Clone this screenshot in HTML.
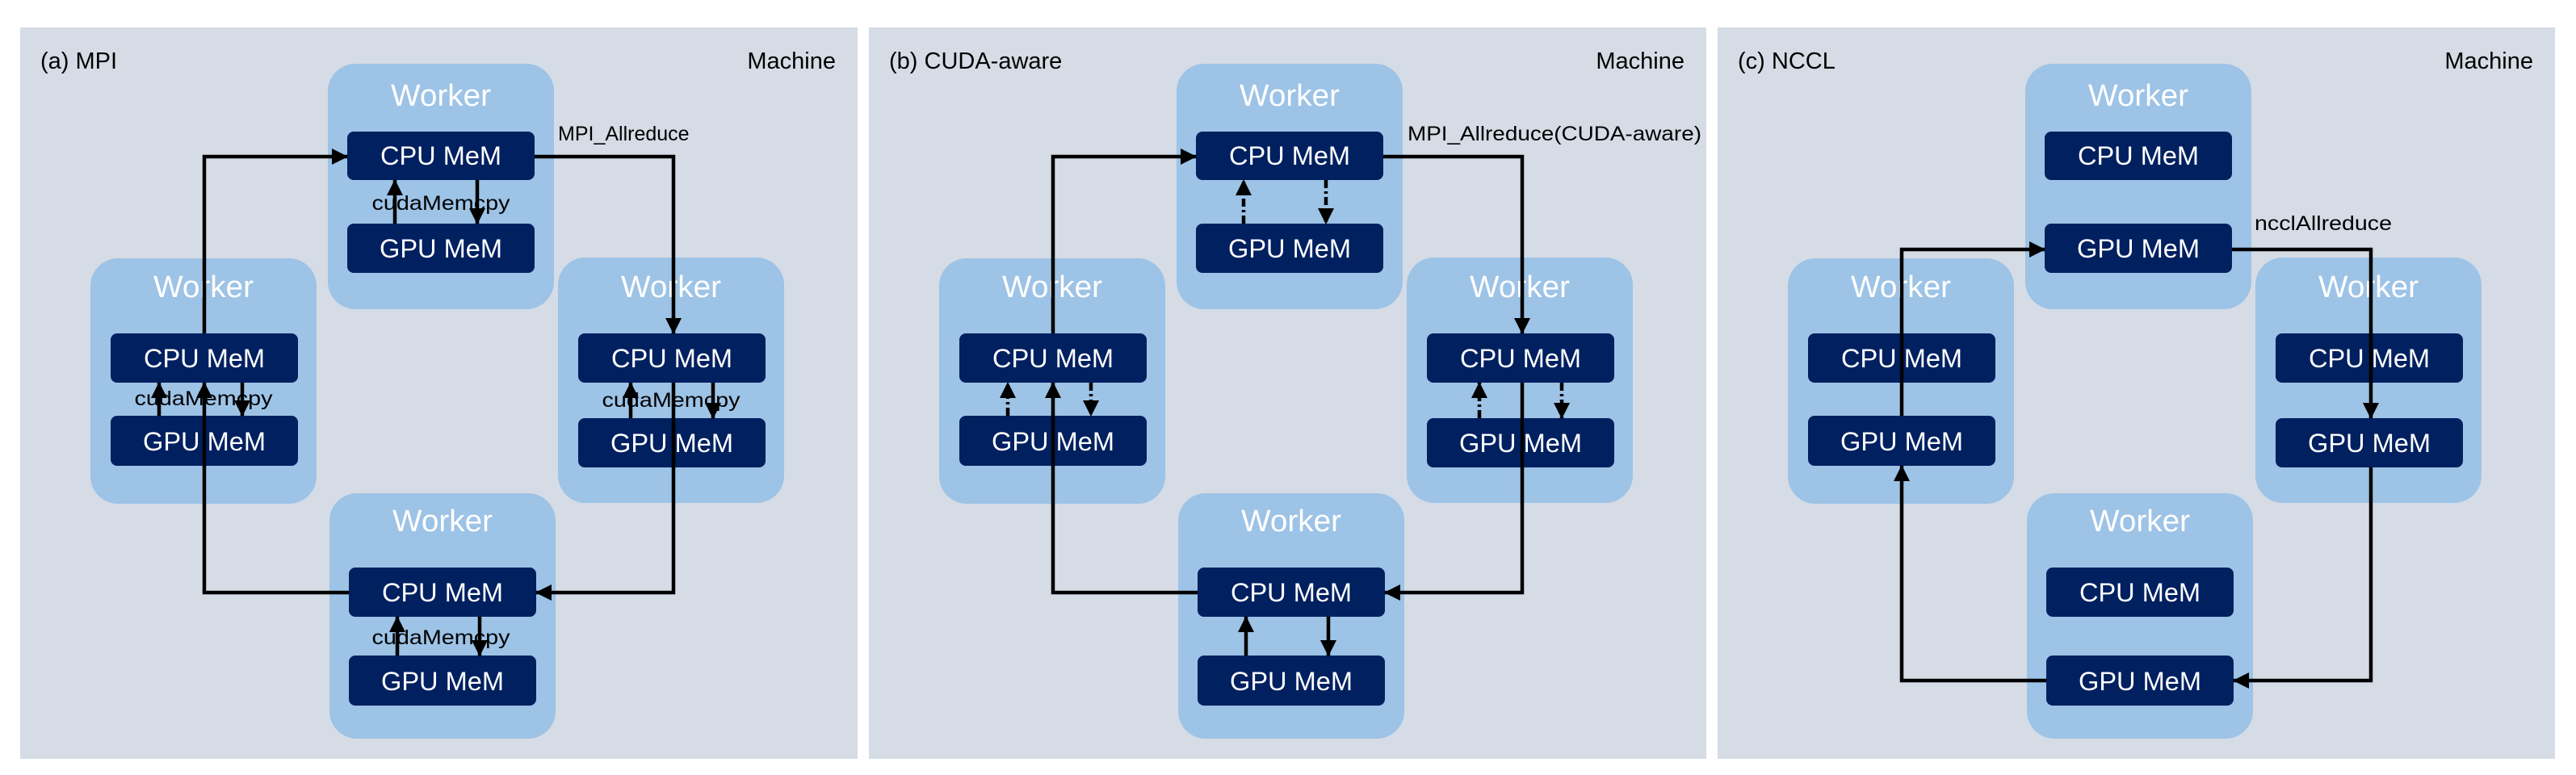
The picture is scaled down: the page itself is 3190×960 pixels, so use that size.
<!DOCTYPE html>
<html><head><meta charset="utf-8"><style>
html,body{margin:0;padding:0;background:#fff;width:3190px;height:960px;overflow:hidden}
svg{display:block}
text{font-family:"Liberation Sans",sans-serif}
.wl{fill:#fff;font-size:38px;text-anchor:middle}
.bt{fill:#fff;font-size:32px;text-anchor:middle}
.lb{fill:#000;font-size:25px}
.pl{fill:#000;font-size:29px}
.w{fill:#9dc3e6}
.b{fill:#002060}
.ln{fill:none;stroke:#000;stroke-width:4.5;marker-end:url(#ah)}
.dl{fill:none;stroke:#000;stroke-width:4.5;stroke-dasharray:10,4,3,4;marker-end:url(#ah)}
</style></head><body>
<svg width="3190" height="960" viewBox="0 0 3190 960" xmlns="http://www.w3.org/2000/svg">
<defs>
<marker id="ah" markerUnits="userSpaceOnUse" markerWidth="22" markerHeight="22" refX="19" refY="10" orient="auto">
<path d="M0,0 L20,10 L0,20 z" fill="#000"/>
</marker>
</defs>

<!-- ============ Panel A ============ -->
<g transform="translate(25,0)">
<rect x="0" y="34" width="1037" height="906" fill="#d5dce6"/>
<text class="pl" x="25" y="85">(a) MPI</text>
<text class="pl" x="1010" y="85" text-anchor="end">Machine</text>
<!-- top -->
<rect class="w" x="381" y="79" width="280" height="304" rx="34"/>
<text class="wl" x="521" y="131" textLength="124" lengthAdjust="spacingAndGlyphs">Worker</text>
<rect class="b" x="405" y="163" width="232" height="60" rx="8"/>
<text class="bt" x="521" y="204" textLength="150" lengthAdjust="spacingAndGlyphs">CPU MeM</text>
<rect class="b" x="405" y="277" width="232" height="61" rx="8"/>
<text class="bt" x="521" y="319" textLength="152" lengthAdjust="spacingAndGlyphs">GPU MeM</text>
<text class="lb" x="521" y="260" text-anchor="middle" textLength="171" lengthAdjust="spacingAndGlyphs">cudaMemcpy</text>
<path class="ln" d="M464,277 L464,223"/>
<path class="ln" d="M566,223 L566,277"/>
<!-- left -->
<rect class="w" x="87" y="320" width="280" height="304" rx="34"/>
<text class="wl" x="227" y="368" textLength="124" lengthAdjust="spacingAndGlyphs">Worker</text>
<rect class="b" x="112" y="413" width="232" height="61" rx="8"/>
<text class="bt" x="228" y="455" textLength="150" lengthAdjust="spacingAndGlyphs">CPU MeM</text>
<rect class="b" x="112" y="515" width="232" height="62" rx="8"/>
<text class="bt" x="228" y="558" textLength="152" lengthAdjust="spacingAndGlyphs">GPU MeM</text>
<text class="lb" x="227" y="502" text-anchor="middle" textLength="171" lengthAdjust="spacingAndGlyphs">cudaMemcpy</text>
<path class="ln" d="M172,515 L172,474"/>
<path class="ln" d="M275,474 L275,515"/>
<!-- right -->
<rect class="w" x="666" y="319" width="280" height="304" rx="34"/>
<text class="wl" x="806" y="368" textLength="124" lengthAdjust="spacingAndGlyphs">Worker</text>
<rect class="b" x="691" y="413" width="232" height="61" rx="8"/>
<text class="bt" x="807" y="455" textLength="150" lengthAdjust="spacingAndGlyphs">CPU MeM</text>
<rect class="b" x="691" y="518" width="232" height="61" rx="8"/>
<text class="bt" x="807" y="560" textLength="152" lengthAdjust="spacingAndGlyphs">GPU MeM</text>
<text class="lb" x="806" y="504" text-anchor="middle" textLength="171" lengthAdjust="spacingAndGlyphs">cudaMemcpy</text>
<path class="ln" d="M756,518 L756,474"/>
<path class="ln" d="M858,474 L858,518"/>
<!-- bottom -->
<rect class="w" x="383" y="611" width="280" height="304" rx="34"/>
<text class="wl" x="523" y="658" textLength="124" lengthAdjust="spacingAndGlyphs">Worker</text>
<rect class="b" x="407" y="703" width="232" height="61" rx="8"/>
<text class="bt" x="523" y="745" textLength="150" lengthAdjust="spacingAndGlyphs">CPU MeM</text>
<rect class="b" x="407" y="812" width="232" height="62" rx="8"/>
<text class="bt" x="523" y="855" textLength="152" lengthAdjust="spacingAndGlyphs">GPU MeM</text>
<text class="lb" x="521" y="798" text-anchor="middle" textLength="171" lengthAdjust="spacingAndGlyphs">cudaMemcpy</text>
<path class="ln" d="M467,812 L467,764"/>
<path class="ln" d="M569,764 L569,812"/>
<!-- ring -->
<text class="lb" x="666" y="174">MPI_Allreduce</text>
<path class="ln" d="M637,194 L809,194 L809,413"/>
<path class="ln" d="M809,474 L809,734 L639,734"/>
<path class="ln" d="M407,734 L228,734 L228,474"/>
<path class="ln" d="M228,413 L228,194 L405,194"/>
</g>

<!-- ============ Panel B ============ -->
<g transform="translate(1076,0)">
<rect x="0" y="34" width="1037" height="906" fill="#d5dce6"/>
<text class="pl" x="25" y="85">(b) CUDA-aware</text>
<text class="pl" x="1010" y="85" text-anchor="end">Machine</text>
<!-- top -->
<rect class="w" x="381" y="79" width="280" height="304" rx="34"/>
<text class="wl" x="521" y="131" textLength="124" lengthAdjust="spacingAndGlyphs">Worker</text>
<rect class="b" x="405" y="163" width="232" height="60" rx="8"/>
<text class="bt" x="521" y="204" textLength="150" lengthAdjust="spacingAndGlyphs">CPU MeM</text>
<rect class="b" x="405" y="277" width="232" height="61" rx="8"/>
<text class="bt" x="521" y="319" textLength="152" lengthAdjust="spacingAndGlyphs">GPU MeM</text>
<path class="dl" d="M464,277 L464,223"/>
<path class="dl" d="M566,223 L566,277"/>
<!-- left -->
<rect class="w" x="87" y="320" width="280" height="304" rx="34"/>
<text class="wl" x="227" y="368" textLength="124" lengthAdjust="spacingAndGlyphs">Worker</text>
<rect class="b" x="112" y="413" width="232" height="61" rx="8"/>
<text class="bt" x="228" y="455" textLength="150" lengthAdjust="spacingAndGlyphs">CPU MeM</text>
<rect class="b" x="112" y="515" width="232" height="62" rx="8"/>
<text class="bt" x="228" y="558" textLength="152" lengthAdjust="spacingAndGlyphs">GPU MeM</text>
<path class="dl" d="M172,515 L172,474"/>
<path class="dl" d="M275,474 L275,515"/>
<!-- right -->
<rect class="w" x="666" y="319" width="280" height="304" rx="34"/>
<text class="wl" x="806" y="368" textLength="124" lengthAdjust="spacingAndGlyphs">Worker</text>
<rect class="b" x="691" y="413" width="232" height="61" rx="8"/>
<text class="bt" x="807" y="455" textLength="150" lengthAdjust="spacingAndGlyphs">CPU MeM</text>
<rect class="b" x="691" y="518" width="232" height="61" rx="8"/>
<text class="bt" x="807" y="560" textLength="152" lengthAdjust="spacingAndGlyphs">GPU MeM</text>
<path class="dl" d="M756,518 L756,474"/>
<path class="dl" d="M858,474 L858,518"/>
<!-- bottom -->
<rect class="w" x="383" y="611" width="280" height="304" rx="34"/>
<text class="wl" x="523" y="658" textLength="124" lengthAdjust="spacingAndGlyphs">Worker</text>
<rect class="b" x="407" y="703" width="232" height="61" rx="8"/>
<text class="bt" x="523" y="745" textLength="150" lengthAdjust="spacingAndGlyphs">CPU MeM</text>
<rect class="b" x="407" y="812" width="232" height="62" rx="8"/>
<text class="bt" x="523" y="855" textLength="152" lengthAdjust="spacingAndGlyphs">GPU MeM</text>
<path class="ln" d="M467,812 L467,764"/>
<path class="ln" d="M569,764 L569,812"/>
<!-- ring -->
<text class="lb" x="667" y="174" textLength="364" lengthAdjust="spacingAndGlyphs">MPI_Allreduce(CUDA-aware)</text>
<path class="ln" d="M637,194 L809,194 L809,413"/>
<path class="ln" d="M809,474 L809,734 L639,734"/>
<path class="ln" d="M407,734 L228,734 L228,474"/>
<path class="ln" d="M228,413 L228,194 L405,194"/>
</g>

<!-- ============ Panel C ============ -->
<g transform="translate(2127,0)">
<rect x="0" y="34" width="1037" height="906" fill="#d5dce6"/>
<text class="pl" x="25" y="85">(c) NCCL</text>
<text class="pl" x="1010" y="85" text-anchor="end">Machine</text>
<!-- top -->
<rect class="w" x="381" y="79" width="280" height="304" rx="34"/>
<text class="wl" x="521" y="131" textLength="124" lengthAdjust="spacingAndGlyphs">Worker</text>
<rect class="b" x="405" y="163" width="232" height="60" rx="8"/>
<text class="bt" x="521" y="204" textLength="150" lengthAdjust="spacingAndGlyphs">CPU MeM</text>
<rect class="b" x="405" y="277" width="232" height="61" rx="8"/>
<text class="bt" x="521" y="319" textLength="152" lengthAdjust="spacingAndGlyphs">GPU MeM</text>
<!-- left -->
<rect class="w" x="87" y="320" width="280" height="304" rx="34"/>
<text class="wl" x="227" y="368" textLength="124" lengthAdjust="spacingAndGlyphs">Worker</text>
<rect class="b" x="112" y="413" width="232" height="61" rx="8"/>
<text class="bt" x="228" y="455" textLength="150" lengthAdjust="spacingAndGlyphs">CPU MeM</text>
<rect class="b" x="112" y="515" width="232" height="62" rx="8"/>
<text class="bt" x="228" y="558" textLength="152" lengthAdjust="spacingAndGlyphs">GPU MeM</text>
<!-- right -->
<rect class="w" x="666" y="319" width="280" height="304" rx="34"/>
<text class="wl" x="806" y="368" textLength="124" lengthAdjust="spacingAndGlyphs">Worker</text>
<rect class="b" x="691" y="413" width="232" height="61" rx="8"/>
<text class="bt" x="807" y="455" textLength="150" lengthAdjust="spacingAndGlyphs">CPU MeM</text>
<rect class="b" x="691" y="518" width="232" height="61" rx="8"/>
<text class="bt" x="807" y="560" textLength="152" lengthAdjust="spacingAndGlyphs">GPU MeM</text>
<!-- bottom -->
<rect class="w" x="383" y="611" width="280" height="304" rx="34"/>
<text class="wl" x="523" y="658" textLength="124" lengthAdjust="spacingAndGlyphs">Worker</text>
<rect class="b" x="407" y="703" width="232" height="61" rx="8"/>
<text class="bt" x="523" y="745" textLength="150" lengthAdjust="spacingAndGlyphs">CPU MeM</text>
<rect class="b" x="407" y="812" width="232" height="62" rx="8"/>
<text class="bt" x="523" y="855" textLength="152" lengthAdjust="spacingAndGlyphs">GPU MeM</text>
<!-- ring -->
<text class="lb" x="665" y="285" textLength="170" lengthAdjust="spacingAndGlyphs">ncclAllreduce</text>
<path class="ln" d="M637,309 L809,309 L809,518"/>
<path class="ln" d="M809,579 L809,843 L639,843"/>
<path class="ln" d="M407,843 L228,843 L228,577"/>
<path class="ln" d="M228,515 L228,309 L405,309"/>
</g>
</svg>
</body></html>
